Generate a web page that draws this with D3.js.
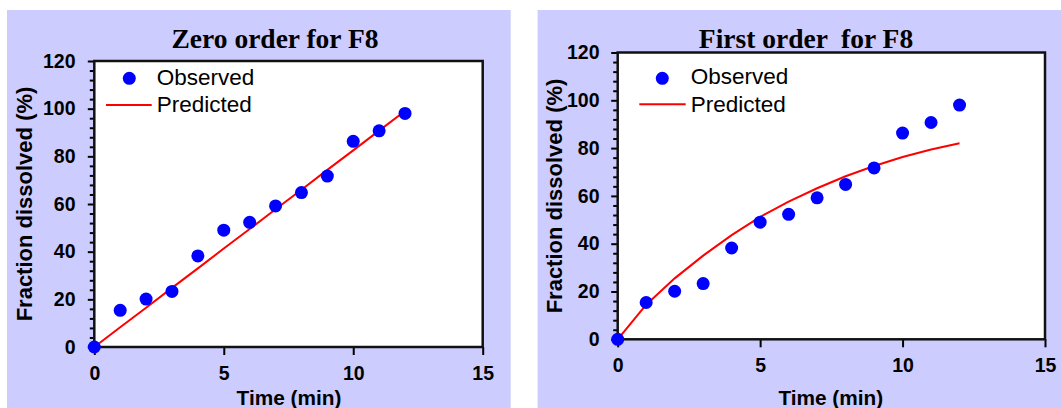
<!DOCTYPE html>
<html>
<head>
<meta charset="utf-8">
<script src="https://cdn.jsdelivr.net/npm/d3@7"></script>
<style>
  html, body { margin: 0; padding: 0; background: #ffffff; }
  svg { display: block; }
</style>
</head>
<body>
<div id="chart"></div>
<script>
// ---------------- DATA ----------------
const times = [0, 1, 2, 3, 4, 5, 6, 7, 8, 9, 10, 11, 12];
const observed = [0, 15.4, 20.1, 23.3, 38.2, 49.0, 52.3, 59.2, 64.8, 71.7, 86.3, 90.7, 98.0];
const zeroOrderPredicted = [0, 8.3, 16.5, 24.8, 33.0, 41.3, 49.5, 57.8, 66.0, 74.3, 82.5, 90.8, 99.0];
const firstOrderPredicted = [0, 14.5, 25.5, 35.0, 43.6, 51.2, 57.6, 63.2, 68.2, 72.5, 76.3, 79.4, 82.0];
const xTicks = [0, 5, 10, 15];
const yTicks = [0, 20, 40, 60, 80, 100, 120];
const titles = ["Zero order for F8", "First order  for F8"];
const xAxisTitle = "Time (min)";
const yAxisTitle = "Fraction dissolved (%)";
const legendLabels = ["Observed", "Predicted"];

// ---------------- LAYOUT ----------------
const W = 1061, H = 408;
const BG = "#ccccff";
const panels = [
  {
    predicted: zeroOrderPredicted, title: titles[0],
    bg: { x: 7, y: 10, w: 503.7, h: 398 },
    plot: { x0: 94.3, x1: 482.7, y0: 347, y1: 61 },
    titlePos: { x: 275, y: 47.7 },
    yLabel: { x: 31.5, y: 204 },
    xLabel: { x: 289, y: 404.7 },
    legend: { dotX: 129.3, dotY: 78.3, lineX0: 106, lineX1: 151.7, lineY: 105, textX: 156.7, obsY: 85, predY: 111.7 },
    yPad: 12.3, xPad: 11
  },
  {
    predicted: firstOrderPredicted, title: titles[1],
    bg: { x: 537.6, y: 10, w: W - 537.6, h: 398 },
    plot: { x0: 617.7, x1: 1045, y0: 339.3, y1: 52.5 },
    titlePos: { x: 806, y: 47.7 },
    yLabel: { x: 561.6, y: 196 },
    xLabel: { x: 830.8, y: 404.7 },
    legend: { dotX: 662.3, dotY: 78.3, lineX0: 639.3, lineX1: 685.7, lineY: 104.3, textX: 690.7, obsY: 84.3, predY: 111.7 },
    yPad: 11.7, xPad: 10.5
  }
];

const svg = d3.select("#chart").append("svg")
  .attr("width", W).attr("height", H)
  .attr("viewBox", `0 0 ${W} ${H}`);

svg.append("rect").attr("width", W).attr("height", H).attr("fill", "#ffffff");

const sansBold = "'Liberation Sans', Arial, sans-serif";

panels.forEach(p => {
  const g = svg.append("g");
  g.append("rect")
    .attr("x", p.bg.x).attr("y", p.bg.y)
    .attr("width", p.bg.w).attr("height", p.bg.h)
    .attr("fill", BG);

  const x = d3.scaleLinear().domain([0, 15]).range([p.plot.x0, p.plot.x1]);
  const y = d3.scaleLinear().domain([0, 120]).range([p.plot.y0, p.plot.y1]);

  // plot area
  g.append("rect")
    .attr("x", p.plot.x0).attr("y", p.plot.y1)
    .attr("width", p.plot.x1 - p.plot.x0)
    .attr("height", p.plot.y0 - p.plot.y1)
    .attr("fill", "#ffffff");

  // minor y ticks
  const minor = d3.range(0, 121, 4).filter(v => v % 20 !== 0);
  const yMinor = g.append("g")
    .attr("transform", `translate(${p.plot.x0},0)`)
    .call(d3.axisLeft(y).tickValues(minor).tickSize(4.5).tickFormat(""));
  yMinor.select(".domain").remove();
  yMinor.selectAll("line").attr("stroke", "#000").attr("stroke-width", 2);

  // major y ticks
  const yAx = g.append("g")
    .attr("transform", `translate(${p.plot.x0},0)`)
    .call(d3.axisLeft(y).tickValues(yTicks).tickSize(6.5).tickPadding(p.yPad).tickFormat(d3.format("d")));
  yAx.select(".domain").remove();
  yAx.selectAll("line").attr("stroke", "#000").attr("stroke-width", 2);
  yAx.selectAll("text")
    .attr("font-family", sansBold).attr("font-weight", "bold")
    .attr("font-size", "19.5px").attr("fill", "#000");

  // x ticks
  const xAx = g.append("g")
    .attr("transform", `translate(0,${p.plot.y0})`)
    .call(d3.axisBottom(x).tickValues(xTicks).tickSize(8).tickPadding(p.xPad).tickFormat(d3.format("d")));
  xAx.select(".domain").remove();
  xAx.selectAll("line").attr("stroke", "#000").attr("stroke-width", 2);
  xAx.selectAll("text")
    .attr("font-family", sansBold).attr("font-weight", "bold")
    .attr("font-size", "19.5px").attr("fill", "#000");

  // frame
  g.append("rect")
    .attr("x", p.plot.x0).attr("y", p.plot.y1)
    .attr("width", p.plot.x1 - p.plot.x0)
    .attr("height", p.plot.y0 - p.plot.y1)
    .attr("fill", "none").attr("stroke", "#111").attr("stroke-width", 2.5);

  // predicted line
  const line = d3.line().x((d, i) => x(times[i])).y(d => y(d));
  g.append("path")
    .datum(p.predicted)
    .attr("d", line)
    .attr("fill", "none").attr("stroke", "#ff0000").attr("stroke-width", 2);

  // observed dots
  g.selectAll("circle.obs")
    .data(observed)
    .enter().append("circle")
    .attr("class", "obs")
    .attr("cx", (d, i) => x(times[i]))
    .attr("cy", d => y(d))
    .attr("r", 6.5)
    .attr("fill", "#0000ff");

  // title
  g.append("text")
    .attr("x", p.titlePos.x).attr("y", p.titlePos.y)
    .attr("text-anchor", "middle")
    .attr("font-family", "'Liberation Serif', 'Times New Roman', serif")
    .attr("font-weight", "bold").attr("font-size", "27.5px")
    .style("white-space", "pre")
    .attr("fill", "#000")
    .text(p.title);

  // axis titles
  g.append("text")
    .attr("x", p.xLabel.x).attr("y", p.xLabel.y)
    .attr("text-anchor", "middle")
    .attr("font-family", sansBold).attr("font-weight", "bold")
    .attr("font-size", "20.8px").attr("fill", "#000")
    .text(xAxisTitle);

  g.append("text")
    .attr("transform", `translate(${p.yLabel.x},${p.yLabel.y}) rotate(-90)`)
    .attr("text-anchor", "middle")
    .attr("font-family", sansBold).attr("font-weight", "bold")
    .attr("font-size", "22px").attr("fill", "#000")
    .text(yAxisTitle);

  // legend
  const L = p.legend;
  g.append("circle").attr("cx", L.dotX).attr("cy", L.dotY).attr("r", 6.5).attr("fill", "#0000ff");
  g.append("line")
    .attr("x1", L.lineX0).attr("x2", L.lineX1)
    .attr("y1", L.lineY).attr("y2", L.lineY)
    .attr("stroke", "#ff0000").attr("stroke-width", 2);
  g.append("text")
    .attr("x", L.textX).attr("y", L.obsY)
    .attr("font-family", "'Liberation Sans', Arial, sans-serif")
    .attr("font-size", "22.5px").attr("fill", "#000")
    .text(legendLabels[0]);
  g.append("text")
    .attr("x", L.textX).attr("y", L.predY)
    .attr("font-family", "'Liberation Sans', Arial, sans-serif")
    .attr("font-size", "22.5px").attr("fill", "#000")
    .text(legendLabels[1]);
});
</script>
</body>
</html>
